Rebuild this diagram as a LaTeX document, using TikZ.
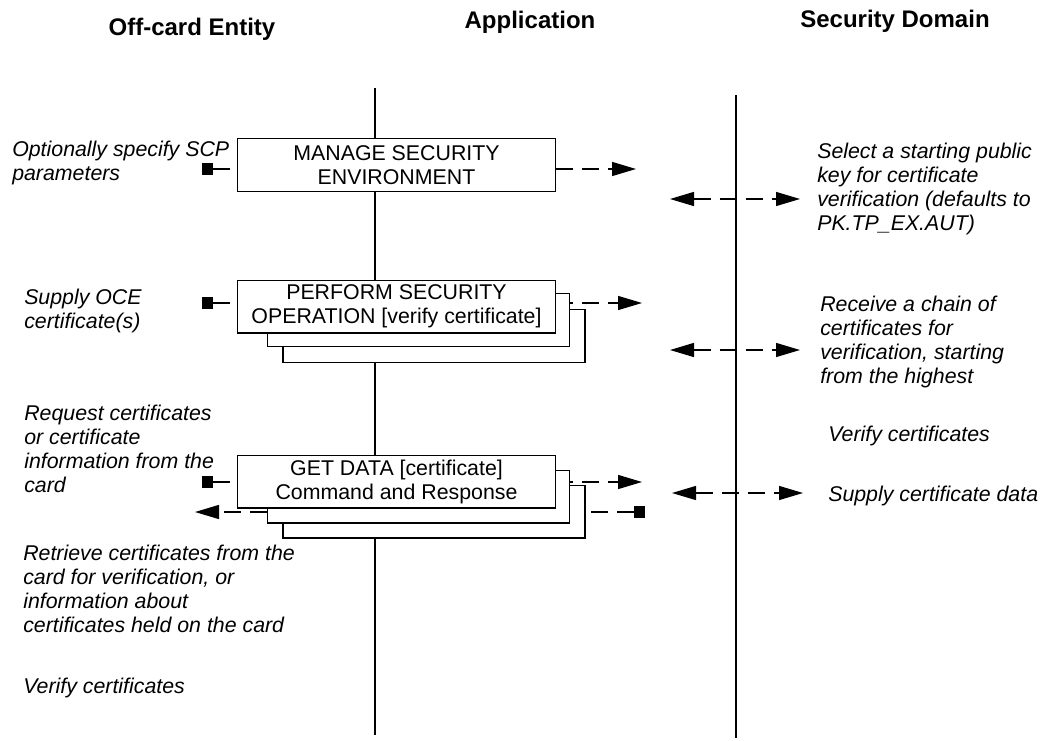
\documentclass[tikz,border=0pt]{standalone}
\usepackage{fontspec}
\setmainfont{Liberation Sans}
\usepackage{tikz}
\usetikzlibrary{arrows.meta, backgrounds}

\begin{document}
\begin{tikzpicture}[
    x=0.75pt, y=-0.75pt,
    every node/.style={font=\fontsize{16}{18}\selectfont},
    header/.style={anchor=base, font=\fontsize{18}{21}\selectfont\bfseries},
    note/.style={anchor=north west, inner sep=0pt, align=left, font=\fontsize{16}{18}\selectfont\itshape},
    cmdbox/.style={
        rectangle, draw, line width=1pt, fill=white,
        minimum width=238.5pt, minimum height=39.5pt, align=center, inner sep=0pt
    },
    stackbox/.style={
        rectangle, draw, line width=1pt, fill=white,
        minimum width=226.5pt, minimum height=39.5pt
    },
    lifeline/.style={draw, line width=1pt},
    msgarrow/.style={draw, line width=1pt, dash pattern=on 12.75pt off 6.75pt, -{Triangle[length=18pt,width=10.5pt]}},
    botharrow/.style={msgarrow, {Triangle[length=18pt,width=10.5pt]}-{Triangle[length=18pt,width=10.5pt]}},
    sendline/.style={draw, line width=1pt, dash pattern=on 12.75pt off 6.75pt, {Square[length=8.5pt,width=8.5pt]}-}
]
\useasboundingbox (0,0) rectangle (1040,740);

\node [header] (hoce) at (192,35) {Off-card Entity};
\node [header] (happ) at (530,28) {Application};
\node [header] (hsd)  at (895,27) {Security Domain};

\coordinate (apptop) at (375,88);
\coordinate (appbot) at (375,735);
\coordinate (sdtop)  at (736,95);
\coordinate (sdbot)  at (736,738);

\node [cmdbox] (mse) at (396.5,165) {MANAGE SECURITY\\ENVIRONMENT};

\node [stackbox] (pso3) at (434,336) {};
\node [stackbox] (pso2) at (418.5,320) {};
\node [cmdbox]   (pso)  at (396.5,306.5) {PERFORM SECURITY\\OPERATION [verify certificate]};

\node [stackbox] (gd3) at (434,511.5) {};
\node [stackbox] (gd2) at (418.5,496.5) {};
\node [cmdbox]   (gd)  at (396.5,481.5) {GET DATA [certificate]\\Command and Response};

\node [note] (ocescp)   at (12,141)  {Optionally specify SCP\\parameters};
\node [note] (ocecert)  at (24,289)  {Supply OCE\\certificate(s)};
\node [note] (ocereq)   at (24,405)  {Request certificates\\or certificate\\information from the\\card};
\node [note] (oceget)   at (23,545)  {Retrieve certificates from the\\card for verification, or\\information about\\certificates held on the card};
\node [note] (oceverif) at (23,678)  {Verify certificates};
\node [note] (sdkey)    at (817,143) {Select a starting public\\key for certificate\\verification (defaults to\\PK.TP\_EX.AUT)};
\node [note] (sdchain)  at (820,296) {Receive a chain of\\certificates for\\verification, starting\\from the highest};
\node [note] (sdverif)  at (828,426) {Verify certificates};
\node [note] (sddata)   at (828,486) {Supply certificate data};

\coordinate (msein)   at (202,169);
\coordinate (mseout)  at (636,169);
\coordinate (sdkeyl)  at (670,199);
\coordinate (sdkeyr)  at (800,199);
\coordinate (psoin)   at (202,303);
\coordinate (psoout)  at (642,303);
\coordinate (sdchnl)  at (670,350);
\coordinate (sdchnr)  at (800,350);
\coordinate (gdin)    at (202,482);
\coordinate (gdout)   at (642,482);
\coordinate (gdback)  at (195,512);
\coordinate (gdresp)  at (645,512);
\coordinate (sddatl)  at (672,493);
\coordinate (sddatr)  at (803,493);

\begin{scope}[on background layer]
\draw [lifeline] (apptop) -- (appbot);
\draw [lifeline] (sdtop)  -- (sdbot);

\draw [sendline]  (msein) -- (msein -| mse.west);
\draw [msgarrow]  (mseout -| mse.east) -- (mseout);
\draw [botharrow] (sdkeyl) -- (sdkeyr);

\draw [sendline]  (psoin) -- (psoin -| pso.west);
\draw [msgarrow]  (psoout -| pso.east) -- (psoout);
\draw [botharrow] (sdchnl) -- (sdchnr);

\draw [sendline]  (gdin) -- (gdin -| gd.west);
\draw [msgarrow]  (gdout -| gd.east) -- (gdout);
\draw [msgarrow]  (gdback -| gd2.west) -- (gdback);
\draw [sendline]  (gdresp) -- (gdresp -| gd2.east);
\draw [botharrow] (sddatl) -- (sddatr);
\end{scope}
\end{tikzpicture}
\end{document}
